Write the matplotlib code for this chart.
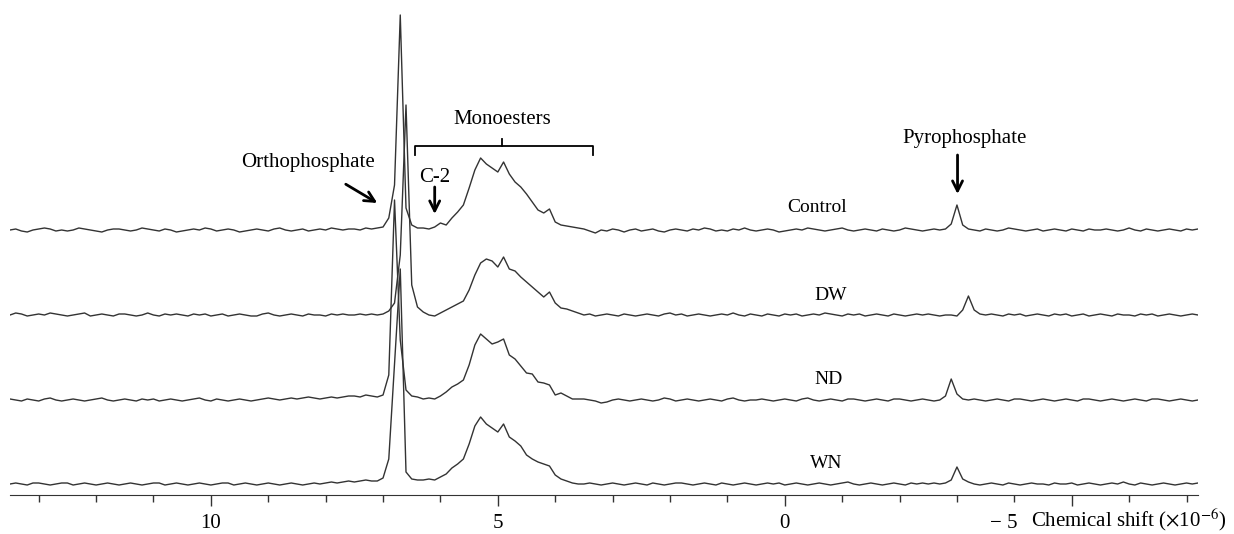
import matplotlib.pyplot as plt
import numpy as np
from matplotlib.ticker import MultipleLocator, FixedLocator
from matplotlib.transforms import ScaledTranslation

plt.rcParams['font.family'] = ['Liberation Serif', 'DejaVu Serif']
plt.rcParams['mathtext.fontset'] = 'stix'

# chemical shift grid, 13.5 down to -7.2 in 0.1 steps
ppm = np.round(np.arange(135, -73, -1) / 10, 1)

# intensities (arbitrary units above each baseline)
control = [
    0, 1, -1, -2, 0, 1, 2, 1, -1, 0,
    -1, 0, 2, 1, 0, -1, -2, 0, 1, 1,
    0, -1, 0, 2, 1, 0, -1, 1, 0, -2,
    -1, 0, 1, 0, 2, 1, -1, 0, 1, 0,
    -2, -1, 0, 1, 0, -1, 1, 2, 0, -1,
    0, 1, -1, 0, 1, 0, 2, 1, 0, 1,
    1, 0, 2, 1, 2, 3, 12, 45, 215, 22,
    5, 2, 2, 1, 3, 7, 5, 12, 18, 25,
    42, 60, 72, 66, 62, 58, 68, 56, 48, 43,
    36, 28, 20, 17, 21, 8, 5, 4, 3, 2,
    1, -1, -3, 0, -1, 1, 0, -2, 0, 1,
    -1, 0, 1, -1, -2, 0, 1, 0, -1, 1,
    0, 2, 1, -1, 0, -1, 1, 0, 2, 0,
    -1, 0, 1, 0, -2, -1, 0, 1, 0, 2,
    1, 0, -1, 0, 1, 2, 0, -1, 0, 1,
    0, -1, 1, 0, -1, 0, 2, 1, 0, -1,
    0, 1, 0, 1, 6, 25, 5, 1, 0, -1,
    1, 0, -1, 0, 2, 1, 0, -1, 0, 1,
    -1, 0, 1, 0, -1, 1, 0, -1, 1, 0,
    0, 1, 0, -1, 0, 2, 0, -1, 1, 0,
    -1, 0, 1, 0, -1, 1, 0, 1,
]
dw = [
    0, 2, 1, -1, 0, 1, 0, 2, 1, 0,
    -1, 0, 1, 2, -1, 0, 1, 0, -1, 1,
    1, 0, -1, 0, 2, 0, -1, 1, 0, 1,
    0, -1, 1, 0, 1, -1, 0, 1, -1, 0,
    1, 0, -1, -1, 1, 2, 0, -1, 0, 1,
    0, -1, 1, 0, 0, -1, 1, 0, 1, 0,
    0, 1, 0, 1, 0, 1, 4, 12, 60, 210,
    30, 8, 3, 0, -1, 2, 5, 8, 11, 14,
    25, 40, 52, 56, 54, 48, 58, 46, 44, 38,
    33, 28, 23, 18, 23, 12, 7, 6, 4, 2,
    0, 1, -1, 0, 1, 0, -1, 1, 0, -1,
    0, 1, 0, -1, 1, 2, 0, 1, -1, 0,
    1, 0, -1, 0, 1, 0, 2, 0, -1, 1,
    0, -1, 1, 0, -1, 1, 0, 1, -1, 0,
    1, 0, 2, 1, 0, -1, 1, 0, 1, -1,
    0, 1, 0, -1, 1, 0, -1, 0, 1, 0,
    1, 0, -1, 0, 0, -1, 5, 19, 5, 1,
    0, 1, 0, -1, 1, 0, 1, -1, 0, 1,
    0, -1, 1, 0, 1, -1, 0, 1, -1, 0,
    1, 0, -1, 1, 0, 0, -1, 1, 0, 1,
    -1, 0, 1, 0, -1, 0, 1, 0,
]
nd = [
    1, 0, -1, 1, 0, -1, 1, 2, 0, -1,
    0, 1, 0, -1, 0, 1, 2, 0, -1, 0,
    1, 0, -1, 1, 0, 1, -1, 0, 1, 0,
    -1, 0, 1, 2, 0, -1, 1, 0, -1, 0,
    1, 0, -1, 0, 1, 2, 1, 0, 1, 2,
    1, 2, 3, 2, 1, 2, 3, 2, 3, 4,
    4, 3, 5, 4, 3, 5, 25, 200, 60, 10,
    4, 3, 1, 2, 1, 4, 8, 13, 16, 20,
    35, 55, 66, 61, 56, 58, 61, 45, 41, 34,
    27, 26, 18, 17, 15, 5, 7, 4, 1, 1,
    1, 0, -1, -3, -2, 0, 1, 0, -1, 0,
    1, 0, -1, 0, 2, 1, -1, 0, 1, 0,
    -1, 0, 1, 0, -1, 1, 2, 0, -1, 0,
    0, 1, 0, -1, 0, 1, 0, -1, 1, 2,
    0, -1, 0, 1, 0, -1, 1, 1, 0, -1,
    0, 1, 0, -1, 1, 1, 0, -1, 0, 1,
    0, -1, 0, 4, 21, 6, 1, 0, 1, 0,
    -1, 0, 1, 0, -1, 1, 1, 0, -1, 0,
    1, 0, -1, 0, 1, 0, -1, 1, 1, 0,
    -1, 0, 1, 0, -1, 0, 1, 0, -1, 1,
    1, 0, -1, 0, 1, 0, -1, 0,
]
wn = [
    0, 1, 0, -1, 1, 1, 0, -1, 0, 1,
    1, -1, 0, 1, 0, -1, 0, 1, 0, -1,
    0, 1, 0, -1, 0, 1, 1, -1, 0, 1,
    0, -1, 0, 1, 0, -1, 0, 1, 1, -1,
    0, 1, 0, -1, 0, 1, 0, -1, 0, 1,
    0, -1, 0, 1, 0, 1, 2, 1, 2, 3,
    2, 3, 4, 3, 3, 6, 25, 120, 215, 12,
    5, 4, 4, 5, 4, 7, 10, 16, 20, 25,
    40, 58, 67, 60, 56, 52, 60, 47, 43, 38,
    29, 25, 22, 20, 18, 9, 5, 3, 1, 0,
    0, 1, 0, -1, 0, 1, 0, -1, 0, 1,
    0, -1, 1, 0, -1, 0, 1, 1, 0, -1,
    0, 1, 0, -1, 1, 0, -1, 0, 1, 0,
    -1, 0, 1, 0, 1, -1, 0, 1, 0, -1,
    0, 1, 0, -1, 0, 1, 2, 0, -1, 0,
    1, 0, -1, 0, 1, 0, -1, 1, 0, 1,
    0, 1, 0, 1, 4, 17, 5, 2, 0, -1,
    0, 1, 0, -1, 1, 0, -1, 0, 1, 0,
    0, -1, 1, 0, 0, 1, -1, 0, 1, 0,
    -1, 0, 1, 0, 2, 0, -1, 1, 0, -1,
    0, 1, 0, -1, 0, 1, 0, 1,
]

names = ['Control', 'DW', 'ND', 'WN']
spectra = [control, dw, nd, wn]
offsets = [254, 169, 84, 0]
label_pos = [(-0.57, 276), (-0.80, 188), (-0.77, 104), (-0.73, 20)]

fig = plt.figure(figsize=(12.34, 5.34), dpi=100)
ax = fig.add_axes([10 / 1234, 39 / 534, 1188 / 1234, 495 / 534])

for name, spec, off, (lx, ly) in zip(names, spectra, offsets, label_pos):
    assert len(spec) == len(ppm)
    ax.plot(ppm, np.array(spec) + off, color='#333333', linewidth=1.0)
    ax.text(lx, ly, name, fontsize=14, ha='center', va='center')

ax.set_xlim(13.5, -7.2)
ax.set_ylim(-11, 484)

# annotations
ax.annotate('Orthophosphate', xy=(7.1, 281), xytext=(8.3, 322),
            fontsize=15, ha='center', va='center',
            arrowprops=dict(arrowstyle='->', lw=2, color='black',
                            shrinkA=14, shrinkB=0, mutation_scale=18))
ax.text(6.1, 306, 'C-2', fontsize=15, ha='center', va='center')
ax.annotate('', xy=(6.1, 270), xytext=(6.1, 297),
            arrowprops=dict(arrowstyle='->', lw=2, color='black',
                            shrinkA=0, shrinkB=0, mutation_scale=18))
ax.text(4.92, 365, 'Monoesters', fontsize=15, ha='center', va='center')
bx0, bx1, bmid = 6.45, 3.35, 4.92
ax.plot([bx0, bx0, bx1, bx1], [329, 338, 338, 329], color='black', lw=1.3)
ax.plot([bmid, bmid], [338, 345], color='black', lw=1.3)
ax.text(-3.14, 345, 'Pyrophosphate', fontsize=15, ha='center', va='center')
ax.annotate('', xy=(-3.01, 290), xytext=(-3.01, 329),
            arrowprops=dict(arrowstyle='->', lw=2, color='black',
                            shrinkA=0, shrinkB=0, mutation_scale=18))

# axis styling
for s in ['left', 'right', 'top']:
    ax.spines[s].set_visible(False)
ax.spines['bottom'].set_color('#333333')
ax.set_yticks([])
ax.xaxis.set_major_locator(FixedLocator([10, 5, 0, -5]))
ax.xaxis.set_minor_locator(MultipleLocator(1))
ax.set_xticklabels(['10', '5', '0', '\u2212 5'], fontsize=15)
ax.tick_params(axis='x', which='major', length=8, width=1, color='#333333', pad=6)
ax.tick_params(axis='x', which='minor', length=5, width=1, color='#333333')

# the -5 label sits left of its tick to make room for the axis title
lab = ax.get_xticklabels()[-1]
lab.set_transform(lab.get_transform() + ScaledTranslation(-0.68, 0, fig.dpi_scale_trans))

fig.text(1226 / 1234, 1 - 520 / 534, r'Chemical shift ($\times$10$^{-6}$)',
         fontsize=15, ha='right', va='center')

fig.savefig('out.png', dpi=100)
